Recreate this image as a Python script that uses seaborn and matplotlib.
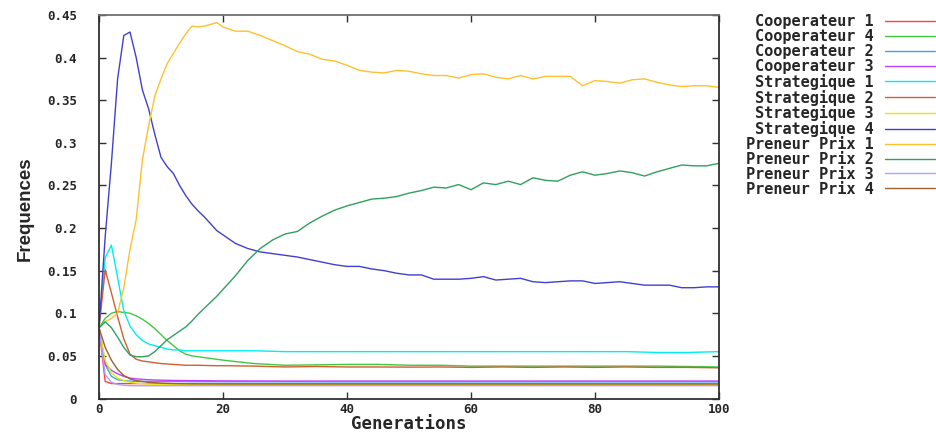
import matplotlib
matplotlib.use("Agg")
import matplotlib.pyplot as plt
import seaborn as sns
from matplotlib.font_manager import FontProperties

# ------------------------------------------------------------
# Data (frequencies)
# ------------------------------------------------------------
gens_full = list(range(0, 21)) + list(range(22, 101, 2))
gens_mid = list(range(0, 21)) + [25, 30, 35, 40, 45, 50, 55, 60, 65, 70, 75, 80, 85, 90, 95, 100]
gens_low = [0, 1, 2, 3, 4, 5, 6, 7, 8, 10, 12, 15, 20, 30, 40, 50, 60, 70, 80, 90, 100]

strategique_4 = [0.083, 0.19, 0.276, 0.375, 0.426, 0.43, 0.40, 0.362, 0.34, 0.31, 0.283,
                 0.272, 0.264, 0.25, 0.238, 0.228, 0.22, 0.213, 0.205, 0.197, 0.192,
                 0.182, 0.176, 0.172, 0.170, 0.168, 0.166, 0.163, 0.160, 0.157, 0.155,
                 0.155, 0.152, 0.150, 0.147, 0.145, 0.145, 0.140, 0.140, 0.140, 0.141,
                 0.143, 0.139, 0.140, 0.141, 0.137, 0.136, 0.137, 0.138, 0.138, 0.135,
                 0.136, 0.137, 0.135, 0.133, 0.133, 0.133, 0.130, 0.130, 0.131, 0.131]
preneur_prix_1 = [0.083, 0.09, 0.094, 0.10, 0.13, 0.175, 0.21, 0.28, 0.32, 0.355, 0.375,
                  0.393, 0.405, 0.417, 0.428, 0.437, 0.436, 0.437, 0.439, 0.441, 0.436,
                  0.431, 0.431, 0.426, 0.420, 0.414, 0.407, 0.404, 0.398, 0.396, 0.391,
                  0.385, 0.383, 0.382, 0.385, 0.384, 0.381, 0.379, 0.379, 0.376, 0.380,
                  0.381, 0.377, 0.375, 0.379, 0.375, 0.378, 0.378, 0.378, 0.367, 0.373,
                  0.372, 0.370, 0.374, 0.375, 0.371, 0.368, 0.366, 0.367, 0.367, 0.365]
preneur_prix_2 = [0.083, 0.09, 0.083, 0.072, 0.06, 0.051, 0.049, 0.049, 0.05, 0.055, 0.062,
                  0.069, 0.074, 0.079, 0.084, 0.091, 0.099, 0.106, 0.113, 0.12, 0.128,
                  0.144, 0.162, 0.176, 0.186, 0.193, 0.196, 0.206, 0.214, 0.221, 0.226,
                  0.230, 0.234, 0.235, 0.237, 0.241, 0.244, 0.248, 0.247, 0.251, 0.245,
                  0.253, 0.251, 0.255, 0.251, 0.259, 0.256, 0.255, 0.262, 0.266, 0.262,
                  0.264, 0.267, 0.265, 0.261, 0.266, 0.270, 0.274, 0.273, 0.273, 0.276]

strategique_1 = [0.083, 0.165, 0.18, 0.142, 0.103, 0.085, 0.075, 0.068, 0.064, 0.062, 0.06,
                 0.058, 0.057, 0.057, 0.056, 0.056, 0.056, 0.056, 0.056, 0.056, 0.056,
                 0.056, 0.055, 0.055, 0.055, 0.055, 0.055, 0.055, 0.055,
                 0.055, 0.055, 0.055, 0.055, 0.055, 0.054, 0.054, 0.055]
strategique_2 = [0.083, 0.151, 0.124, 0.096, 0.07, 0.052, 0.046, 0.044, 0.043, 0.042, 0.041,
                 0.0405, 0.040, 0.0395, 0.039, 0.039, 0.039, 0.0388, 0.0386, 0.0385, 0.0385,
                 0.038, 0.037, 0.0375, 0.037, 0.037, 0.0368, 0.037, 0.0365,
                 0.037, 0.0365, 0.037, 0.0365, 0.037, 0.0365, 0.0365, 0.036]
cooperateur_4 = [0.083, 0.094, 0.10, 0.102, 0.101, 0.10, 0.097, 0.093, 0.088, 0.082, 0.075,
                 0.068, 0.062, 0.056, 0.052, 0.05, 0.049, 0.048, 0.047, 0.046, 0.045,
                 0.041, 0.039, 0.0395, 0.040, 0.040, 0.039, 0.039, 0.038,
                 0.038, 0.038, 0.038, 0.038, 0.038, 0.038, 0.0375, 0.037]

cooperateur_1 = [0.083, 0.02, 0.0175, 0.0175, 0.0175, 0.0175, 0.0175, 0.0175, 0.0175, 0.0175,
                 0.0175, 0.0175, 0.0175, 0.0174, 0.0174, 0.0174, 0.0173, 0.0173, 0.0172, 0.0172, 0.0172]
cooperateur_2 = [0.083, 0.04, 0.026, 0.022, 0.021, 0.0205, 0.020, 0.020, 0.020, 0.020,
                 0.020, 0.0198, 0.0197, 0.0196, 0.0195, 0.0195, 0.0195, 0.0195, 0.0195, 0.0195, 0.0195]
cooperateur_3 = [0.083, 0.04, 0.033, 0.029, 0.026, 0.024, 0.023, 0.0225, 0.022, 0.0215,
                 0.0212, 0.021, 0.0207, 0.0205, 0.0205, 0.0205, 0.0205, 0.0205, 0.0205, 0.0205, 0.0205]
strategique_3 = [0.083, 0.045, 0.03, 0.024, 0.021, 0.019, 0.018, 0.0175, 0.017, 0.0168,
                 0.0167, 0.0166, 0.0165, 0.0165, 0.0165, 0.0165, 0.0165, 0.0165, 0.0165, 0.0165, 0.0165]
preneur_prix_3 = [0.083, 0.028, 0.019, 0.0165, 0.0155, 0.015, 0.015, 0.015, 0.015, 0.015,
                  0.015, 0.015, 0.015, 0.015, 0.015, 0.015, 0.015, 0.015, 0.015, 0.015, 0.015]
preneur_prix_4 = [0.083, 0.06, 0.045, 0.034, 0.027, 0.023, 0.021, 0.02, 0.019, 0.018,
                  0.0175, 0.0172, 0.017, 0.017, 0.017, 0.017, 0.017, 0.017, 0.017, 0.017, 0.017]

labels = ['Cooperateur 1', 'Cooperateur 4', 'Cooperateur 2', 'Cooperateur 3',
          'Strategique 1', 'Strategique 2', 'Strategique 3', 'Strategique 4',
          'Preneur Prix 1', 'Preneur Prix 2', 'Preneur Prix 3', 'Preneur Prix 4']

x_ticks = [0, 20, 40, 60, 80, 100]
y_ticks = [0, 0.05, 0.1, 0.15, 0.2, 0.25, 0.3, 0.35, 0.4, 0.45]
y_tick_labels = ['0', '0.05', '0.1', '0.15', '0.2', '0.25', '0.3', '0.35', '0.4', '0.45']

# ------------------------------------------------------------
# Plot
# ------------------------------------------------------------
sns.set_style("white")

series = [
    (gens_low, cooperateur_1, '#ff4040'),
    (gens_mid, cooperateur_4, '#40c840'),
    (gens_low, cooperateur_2, '#40a0ff'),
    (gens_low, cooperateur_3, '#c040ff'),
    (gens_mid, strategique_1, '#00eeee'),
    (gens_mid, strategique_2, '#d06030'),
    (gens_low, strategique_3, '#e8e800'),
    (gens_full, strategique_4, '#4040d0'),
    (gens_full, preneur_prix_1, '#ffc030'),
    (gens_full, preneur_prix_2, '#30a060'),
    (gens_low, preneur_prix_3, '#b0a0ff'),
    (gens_low, preneur_prix_4, '#a06030'),
]

fig = plt.figure(figsize=(9.37, 4.34), dpi=100)
ax = fig.add_axes([99 / 937, 35.5 / 434, 620 / 937, 383.5 / 434])

for (gx, vals, col), name in zip(series, labels):
    sns.lineplot(x=gx, y=vals, color=col, label=name, ax=ax, linewidth=1.0)

mono = FontProperties(family='DejaVu Sans Mono', weight='bold', size=9)

ax.set_xlim(0, 100)
ax.set_ylim(0, 0.45)
ax.set_xticks(x_ticks)
ax.set_xticklabels([str(t) for t in x_ticks], fontproperties=mono)
ax.set_yticks(y_ticks)
ax.set_yticklabels(y_tick_labels, fontproperties=mono)
ax.tick_params(direction='in', length=5, width=1, color='#303030',
               top=True, right=True, bottom=True, left=True)
ax.tick_params(axis='y', pad=16)
ax.tick_params(axis='x', pad=3)

for sp in ax.spines.values():
    sp.set_color('#303030')
    sp.set_linewidth(1.3)
ax.spines['top'].set_color('#707070')

# axis labels
ax.set_xlabel('Generations', fontproperties=FontProperties(family='DejaVu Sans Mono', weight='bold', size=12.5))
ax.xaxis.set_label_coords(0.5, -0.044)
ax.set_ylabel('Frequences', fontproperties=FontProperties(family=['Liberation Sans', 'DejaVu Sans'],
                                                          weight='bold', size=13.5))
ax.yaxis.set_label_coords(-0.106, 0.495)

ax.legend(loc='upper right', bbox_to_anchor=(0.998, 0.967), bbox_transform=fig.transFigure,
          frameon=False, markerfirst=False,
          prop=FontProperties(family='DejaVu Sans Mono', weight='bold', size=11),
          handlelength=3.3, handletextpad=0.75, labelspacing=-0.01,
          borderpad=0, borderaxespad=0)

plt.savefig('out.png', dpi=100)
